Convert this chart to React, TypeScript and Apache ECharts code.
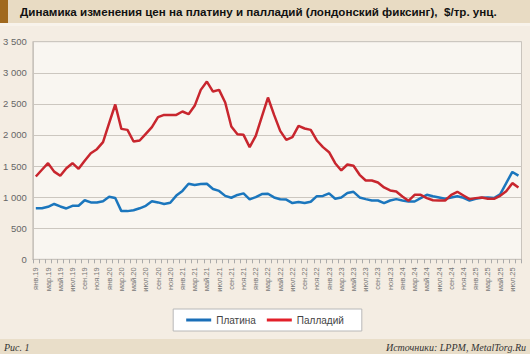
import React, { useEffect, useRef } from "react";
import * as echarts from "echarts";

const monthNames = ["янв", "фев", "мар", "апр", "май", "июн", "июл", "авг", "сен", "окт", "ноя", "дек"];
const years = ["19", "20", "21", "22", "23", "24", "25"];
const categories: string[] = [];
years.forEach((y) => monthNames.forEach((m) => categories.push(m + "." + y)));
categories.length = 80;

const platinum = [
  820, 822, 845, 890, 850, 818, 860, 862, 950, 915, 915, 935,
  1005, 985, 775, 775, 790, 820, 860, 935, 915, 890, 910, 1025,
  1100, 1215, 1195, 1210, 1215, 1130, 1100, 1020, 990, 1035, 1060, 965,
  1000, 1050, 1055, 995, 965, 960, 905, 920, 905, 925, 1015, 1020,
  1060, 975, 995, 1065, 1085, 995, 968, 946, 946, 904, 946, 968,
  946, 930, 930, 984, 1037, 1015, 995, 975, 995, 1015, 990, 945,
  975, 990, 995, 985, 1045, 1225, 1405, 1345,
];

const palladium = [
  1332, 1440, 1546, 1410, 1343, 1466, 1546, 1455, 1584, 1707, 1771, 1884,
  2189, 2490, 2098, 2082, 1895, 1911, 2018, 2125, 2286, 2323, 2323, 2323,
  2377, 2334, 2468, 2725, 2859, 2698, 2725, 2521, 2136, 2012, 2002, 1804,
  1986, 2296, 2602, 2323, 2066, 1921, 1964, 2146, 2104, 2082, 1911, 1804,
  1723, 1546, 1429, 1525, 1504, 1359, 1268, 1268, 1236, 1155, 1107, 1091,
  1011, 941, 1037, 1037, 984, 950, 946, 946, 1037, 1086, 1027, 968,
  984, 995, 973, 973, 1021, 1095, 1225, 1155,
];

const yTicks = [0, 500, 1000, 1500, 2000, 2500, 3000, 3500];

export default function App() {
  const ref = useRef<HTMLDivElement>(null);
  useEffect(() => {
    if (!ref.current) return;
    const chart = echarts.init(ref.current, null, { renderer: "svg" });
    chart.setOption({
      animation: false,
      backgroundColor: "#f4ede3",
      textStyle: { fontFamily: "Liberation Sans, Arial, sans-serif" },
      graphic: [
        { type: "rect", shape: { x: 0, y: 0, width: 530, height: 23 }, style: { fill: "#e8dbc3" }, silent: true },
        { type: "rect", shape: { x: 0, y: 0, width: 8, height: 23 }, style: { fill: "#a0691e" }, silent: true },
        { type: "rect", shape: { x: 0, y: 23, width: 530, height: 3 }, style: { fill: "#f8f3eb" }, silent: true },
        {
          type: "text",
          x: 20,
          y: 11.5,
          style: {
            text: "Динамика изменения цен на платину и палладий (лондонский фиксинг),  $/тр. унц.",
            fill: "#111",
            font: "bold 11.6px 'Liberation Sans', Arial, sans-serif",
            textVerticalAlign: "middle",
          },
        },
        { type: "rect", shape: { x: 0, y: 339, width: 530, height: 15 }, style: { fill: "#e9dec9" }, silent: true },
        {
          type: "text",
          x: 4,
          y: 347,
          style: {
            text: "Рис. 1",
            fill: "#333",
            font: "italic 10px 'Liberation Serif', 'Times New Roman', serif",
            textVerticalAlign: "middle",
          },
        },
        {
          type: "text",
          x: 526,
          y: 347,
          style: {
            text: "Источники: LPPM, MetalTorg.Ru",
            fill: "#333",
            font: "italic 10px 'Liberation Serif', 'Times New Roman', serif",
            textAlign: "right",
            textVerticalAlign: "middle",
          },
        },
      ],
      grid: {
        left: 31,
        right: 8.5,
        top: 41.7,
        bottom: 94.7,
        show: true,
        backgroundColor: "#f9f6f1",
        borderColor: "#c9c4bd",
        borderWidth: 1,
      },
      legend: {
        top: 309,
        left: "center",
        backgroundColor: "#ffffff",
        borderColor: "#b8b8b8",
        borderWidth: 1,
        borderRadius: 0,
        padding: [6, 18, 6, 13],
        itemGap: 11,
        itemWidth: 25,
        itemHeight: 3,
        icon: "rect",
        textStyle: { fontSize: 10, color: "#444" },
        data: [
          { name: "Платина", itemStyle: { color: "#1a6fb8" } },
          { name: "Палладий", itemStyle: { color: "#e2202a" } },
        ],
      },
      xAxis: {
        type: "category",
        data: categories,
        boundaryGap: true,
        axisLine: { show: true, lineStyle: { color: "#c9c4bd" } },
        axisTick: { show: true, interval: 0, length: 4, lineStyle: { color: "#aaa" } },
        axisLabel: {
          interval: 1,
          rotate: 90,
          fontSize: 7.5,
          color: "#777",
          margin: 8,
        },
      },
      yAxis: {
        type: "value",
        min: 0,
        max: 3500,
        interval: 500,
        axisLine: { show: true, lineStyle: { color: "#c9c4bd" } },
        axisTick: { show: false },
        splitLine: { lineStyle: { color: "#ccc7c0", width: 1 } },
        axisLabel: {
          fontSize: 9.5,
          color: "#666",
          margin: 6,
          formatter: (v: number) => (yTicks.includes(v) ? String(v).replace(/\B(?=(\d{3})+(?!\d))/g, " ") : ""),
        },
      },
      series: [
        {
          name: "Платина",
          type: "line",
          data: platinum,
          symbol: "none",
          lineStyle: { color: "#1b76bd", width: 2.5 },
          itemStyle: { color: "#1a6fb8" },
        },
        {
          name: "Палладий",
          type: "line",
          data: palladium,
          symbol: "none",
          lineStyle: { color: "#c8262e", width: 2.5 },
          itemStyle: { color: "#e2202a" },
        },
      ],
    });
    return () => chart.dispose();
  }, []);
  return <div ref={ref} style={{ position: "absolute", left: 0, top: 0, width: 530, height: 354 }} />;
}
